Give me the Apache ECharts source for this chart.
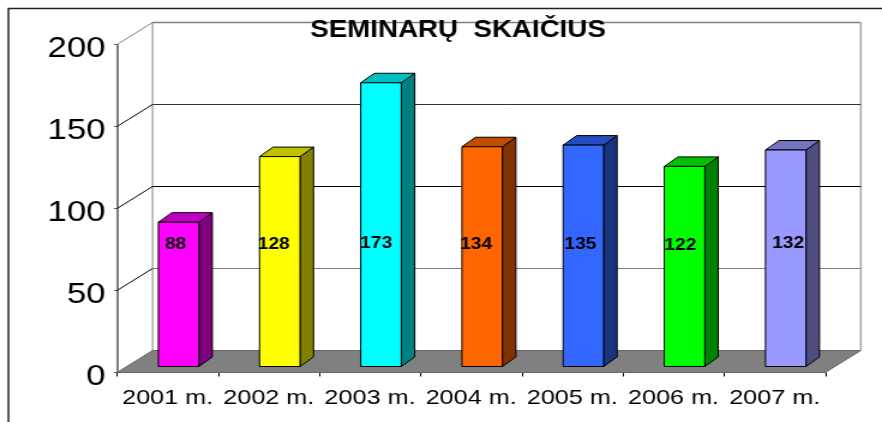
<!DOCTYPE html>
<html>
<head>
<meta charset="utf-8">
<script src="https://cdn.jsdelivr.net/npm/echarts@6/dist/echarts.min.js"></script>
<style>
    html, body { margin: 0; padding: 0; background: #fff; overflow: hidden; }
    /* the source picture is a stretched image, so the whole chart is stretched too */
    #char1 { width: 735px; height: 422px; transform: scaleX(1.2); transform-origin: 0 0; }
</style>
</head>
<body>
<div id="char1"></div>
<script>
var years = ["2001 m.", "2002 m.", "2003 m.", "2004 m.", "2005 m.", "2006 m.", "2007 m."];
var seminars = [88, 128, 173, 134, 135, 122, 132];
var wallTicks = [0, 50, 100, 150, 200];

var frontColors = ["#ff00ff", "#ffff00", "#00ffff", "#ff6600", "#3366ff", "#00ff00", "#9999ff"];
var topColors = ["#c000c0", "#c0c000", "#00c0c0", "#c04d00", "#264dc0", "#00c000", "#7373c0"];
var sideColors = ["#800080", "#808000", "#008080", "#803300", "#1a3380", "#008000", "#4d4d80"];
var wallLineColors = ["#808080", "#808080", "#000000", "#333333", "#808080"];

// label placement in the source does not follow the bars
var labelShiftX = [-2.5, -5, -4, -5, -2.5, -3.5, 2];
var labelValue = [78, 78, 78.3, 77.8, 77.8, 77.5, 78.8];

var depthX = 35.5 / 1.2, depthY = -22;      // floor depth
var barGapX = 11 / 1.2, barGapY = -6;       // bar front, away from the axis plane
var barW = 40.5 / 1.2;
var barDepthX = 13.5 / 1.2, barDepthY = -9.5;

function char1() {
    var myChart = echarts.init(document.getElementById("char1"));

    function floorItem(params, api) {
        var band = api.size([1, 0])[0];
        var p0 = api.coord([0, 0]), p1 = api.coord([years.length - 1, 0]);
        var l = p0[0] - band / 2, r = p1[0] + band / 2, y = p0[1];
        return {
            type: "polygon",
            shape: { points: [[l, y], [l + depthX, y + depthY], [r + depthX, y + depthY], [r, y]] },
            style: { fill: "#808080", stroke: "#666666", lineWidth: 1 }
        };
    }

    function wallItem(params, api) {
        var v = api.value(0);
        var band = api.size([1, 0])[0];
        var p0 = api.coord([0, v]), p1 = api.coord([years.length - 1, v]);
        var l = p0[0] - band / 2, r = p1[0] + band / 2, y = p0[1];
        var back = v === 0 ? [] : [{
            type: "line",
            shape: { x1: l + depthX, y1: y + depthY, x2: r + depthX, y2: y + depthY },
            style: { stroke: wallLineColors[params.dataIndex], lineWidth: v === 200 ? 1.5 : 1 }
        }];
        var diag = v === 0 ? [] : [{
            type: "line",
            shape: { x1: l, y1: y, x2: l + depthX, y2: y + depthY },
            style: { stroke: v === 200 ? "#808080" : "#000000", lineWidth: 1 }
        }];
        return { type: "group", children: back.concat(diag) };
    }

    function wallSideItem(params, api) {
        var band = api.size([1, 0])[0];
        var p0 = api.coord([0, 0]), p1 = api.coord([years.length - 1, 200]);
        var l = p0[0] - band / 2 + depthX, r = p1[0] + band / 2 + depthX;
        var y0 = p0[1] + depthY, y1 = p1[1] + depthY;
        return {
            type: "group",
            children: [
                { type: "line", shape: { x1: l, y1: y0, x2: l, y2: y1 }, style: { stroke: "#808080", lineWidth: 1 } },
                { type: "line", shape: { x1: r, y1: y0, x2: r, y2: y1 }, style: { stroke: "#a6a6a6", lineWidth: 1.5 } }
            ]
        };
    }

    function barItem(params, api) {
        var i = api.value(0);
        var base = api.coord([i, 0]), head = api.coord([i, api.value(1)]);
        var x0 = base[0] + barGapX - barW / 2, x1 = x0 + barW;
        var yb = base[1] + barGapY, yt = head[1] + barGapY;
        var edge = { stroke: "#000000", lineWidth: 1, lineJoin: "round" };
        return {
            type: "group",
            children: [
                {
                    type: "polygon",
                    shape: { points: [[x1, yb], [x1 + barDepthX, yb + barDepthY], [x1 + barDepthX, yt + barDepthY], [x1, yt]] },
                    style: Object.assign({ fill: sideColors[i] }, edge)
                },
                {
                    type: "polygon",
                    shape: { points: [[x0, yt], [x0 + barDepthX, yt + barDepthY], [x1 + barDepthX, yt + barDepthY], [x1, yt]] },
                    style: Object.assign({ fill: topColors[i] }, edge)
                },
                {
                    type: "rect",
                    shape: { x: x0, y: yt, width: barW, height: yb - yt },
                    style: Object.assign({ fill: frontColors[i] }, edge)
                }
            ]
        };
    }

    function labelItem(params, api) {
        var i = api.value(0);
        var p = api.coord([i, labelValue[i]]);
        return {
            type: "text",
            style: {
                x: p[0] + barGapX + labelShiftX[i],
                y: p[1],
                text: String(api.value(1)),
                fill: "#000000",
                font: "bold 16px 'Liberation Sans', Arial, sans-serif",
                align: "center",
                verticalAlign: "middle"
            }
        };
    }

    var barData = seminars.map(function (v, i) { return [i, v]; });

    var option = {
        animation: false,
        backgroundColor: "#ffffff",
        title: {
            text: "SEMINARŲ  SKAIČIUS",
            left: 452 / 1.2,
            top: 14,
            textAlign: "center",
            textStyle: {
                color: "#000000",
                fontFamily: "Liberation Sans",
                fontWeight: "bold",
                fontSize: 23.1
            }
        },
        grid: { left: 97.5, right: 47.25, top: 44.5, bottom: 49.5 },
        xAxis: {
            type: "category",
            data: years,
            axisLine: { lineStyle: { color: "#000000", width: 1 } },
            axisTick: { show: true, length: 4, lineStyle: { color: "#000000" } },
            axisLabel: {
                color: "#000000",
                fontFamily: "Liberation Sans",
                fontSize: 21,
                margin: 15,
                interval: 0
            }
        },
        yAxis: {
            type: "value",
            min: 0,
            max: 200,
            interval: 50,
            axisLine: { show: true, lineStyle: { color: "#555555", width: 1.5 } },
            axisTick: { show: true, length: 2.5, lineStyle: { color: "#555555" } },
            axisLabel: {
                color: "#000000",
                fontFamily: "Liberation Sans",
                fontSize: 29,
                margin: 9.5,
                verticalAlign: "top",
                lineHeight: 9
            },
            splitLine: { show: false }
        },
        series: [
            { type: "custom", name: "floor", z: 1, silent: true, data: [[0]], renderItem: floorItem },
            { type: "custom", name: "wall sides", z: 2, silent: true, data: [[0]], renderItem: wallSideItem },
            { type: "custom", name: "wall lines", z: 3, silent: true, data: wallTicks.map(function (v) { return [v]; }), encode: { y: 0 }, renderItem: wallItem },
            { type: "custom", name: "bars", z: 4, data: barData, encode: { x: 0, y: 1 }, renderItem: barItem },
            { type: "custom", name: "labels", z: 5, silent: true, data: barData, encode: { x: 0, y: 1 }, renderItem: labelItem }
        ],
        graphic: [{
            type: "polyline",
            z: 10,
            shape: { points: [[7, 422], [7, 8.5], [735, 8.5]] },
            style: { fill: "none", stroke: "#222222", lineWidth: 1.5 }
        }]
    };

    myChart.setOption(option);
    window.addEventListener("resize", function () {
        myChart.resize();
    });
}

char1();
</script>
</body>
</html>
